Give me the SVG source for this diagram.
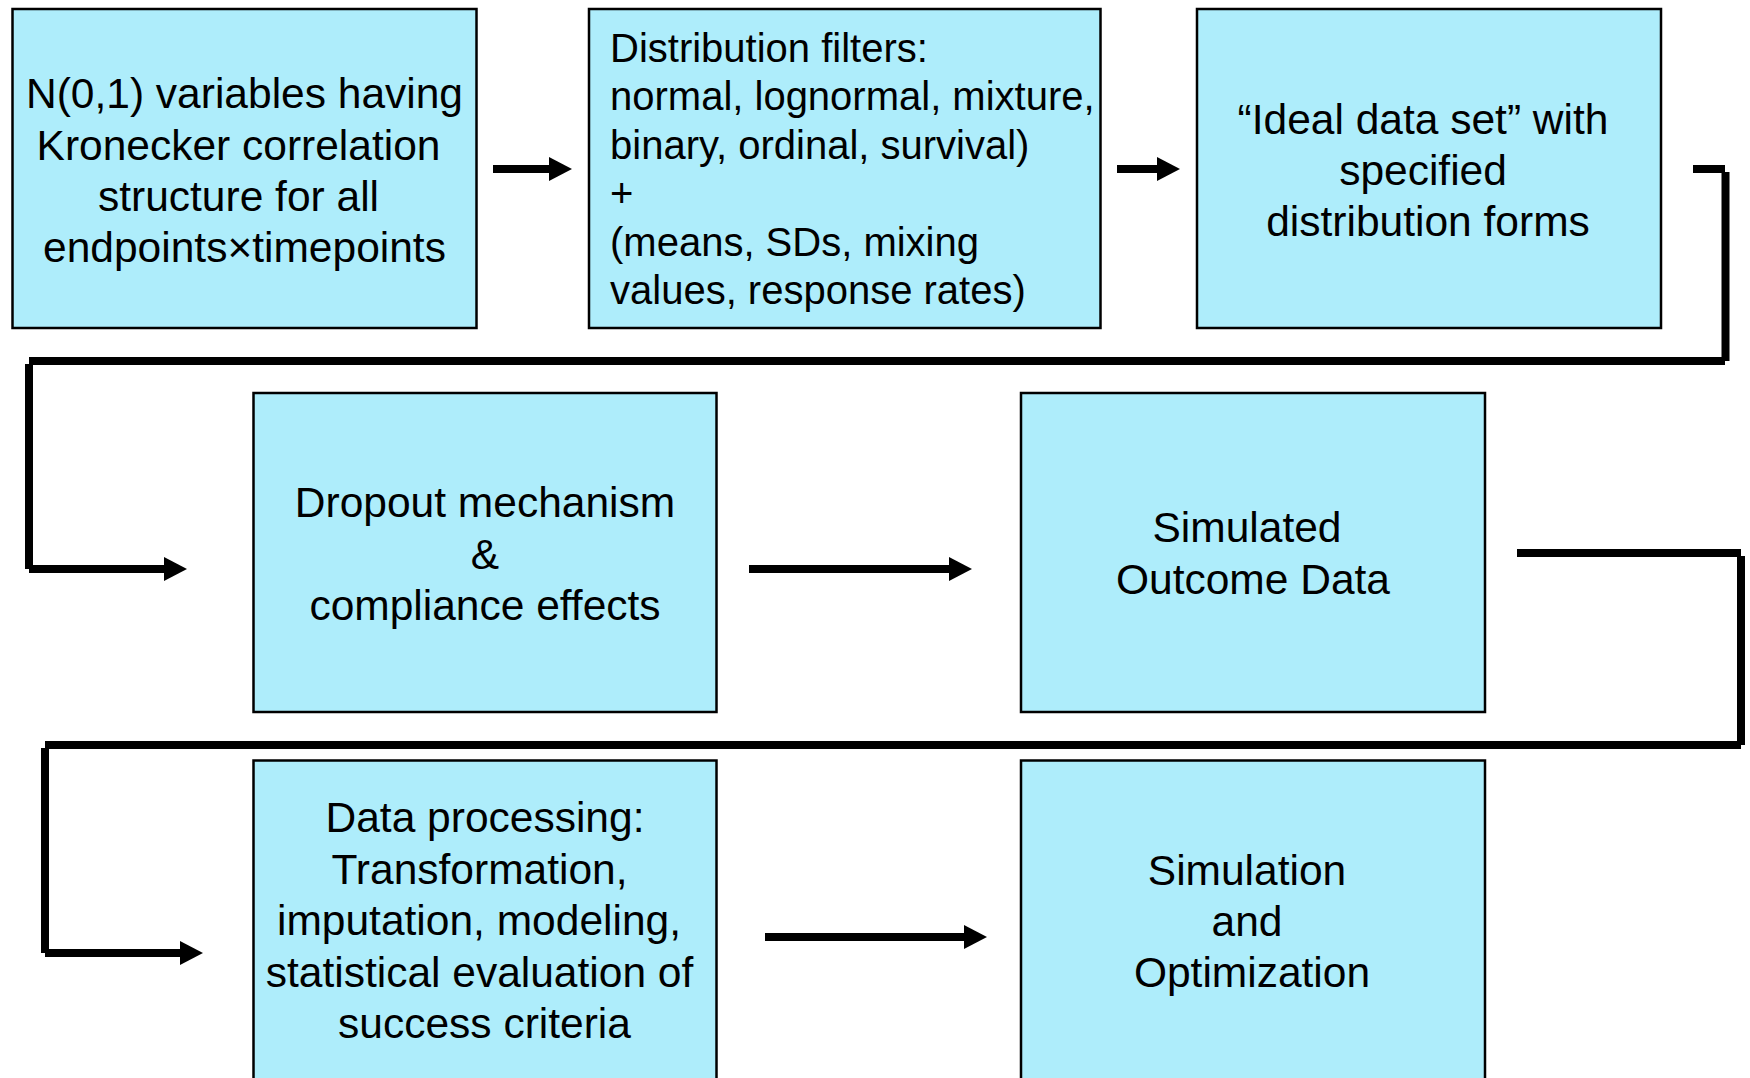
<svg xmlns="http://www.w3.org/2000/svg" width="1750" height="1078" viewBox="0 0 1750 1078">
  <style>
    .box { fill: #AEEDFB; stroke: #000000; stroke-width: 2.5; }
    .lbl { font-family: "Liberation Sans", Arial, sans-serif; font-size: 42.5px; fill: #000000; text-anchor: middle; }
    .lbl-left { font-family: "Liberation Sans", Arial, sans-serif; font-size: 40px; fill: #000000; text-anchor: start; }
    .wire { fill: none; stroke: #000000; stroke-width: 8; stroke-linecap: butt; }
  </style>
  <defs>
    <marker id="head" viewBox="0 0 23 24" markerWidth="23" markerHeight="24" refX="1" refY="12" orient="auto" markerUnits="userSpaceOnUse">
      <path d="M0,0 L23,12 L0,24 Z" fill="#000000"/>
    </marker>
  </defs>
  <rect width="1750" height="1078" fill="#FFFFFF"/>

  <!-- process steps -->
  <g id="node-normals">
    <rect class="box" x="12.5" y="9" width="464" height="319"/>
    <text class="lbl" x="244.5" y="108">N(0,1) variables having</text>
    <text class="lbl" x="238.5" y="159.5">Kronecker correlation</text>
    <text class="lbl" x="238.5" y="211">structure for all</text>
    <text class="lbl" x="244.5" y="262">endpoints×timepoints</text>
  </g>

  <g id="node-filters">
    <rect class="box" x="589" y="9" width="511.5" height="319"/>
    <text class="lbl-left" x="610" y="62">Distribution filters:</text>
    <text class="lbl-left" x="610" y="110.4">normal, lognormal, mixture,</text>
    <text class="lbl-left" x="610" y="158.8">binary, ordinal, survival)</text>
    <text class="lbl-left" x="610" y="207.2">+</text>
    <text class="lbl-left" x="610" y="255.6">(means, SDs, mixing</text>
    <text class="lbl-left" x="610" y="304">values, response rates)</text>
  </g>

  <g id="node-ideal">
    <rect class="box" x="1197" y="9" width="464" height="319"/>
    <text class="lbl" x="1423" y="133.5">“Ideal data set” with</text>
    <text class="lbl" x="1423" y="185">specified</text>
    <text class="lbl" x="1428" y="236">distribution forms</text>
  </g>

  <g id="node-dropout">
    <rect class="box" x="253.5" y="393" width="463" height="319"/>
    <text class="lbl" x="485" y="517">Dropout mechanism</text>
    <text class="lbl" x="485" y="568.5">&amp;</text>
    <text class="lbl" x="485" y="620">compliance effects</text>
  </g>

  <g id="node-simulated">
    <rect class="box" x="1021" y="393" width="464" height="319"/>
    <text class="lbl" x="1247" y="542">Simulated</text>
    <text class="lbl" x="1253" y="593.5">Outcome Data</text>
  </g>

  <g id="node-processing">
    <rect class="box" x="253.5" y="760.5" width="463" height="340"/>
    <text class="lbl" x="485" y="832">Data processing:</text>
    <text class="lbl" x="479.5" y="883.5">Transformation,</text>
    <text class="lbl" x="479" y="935">imputation, modeling,</text>
    <text class="lbl" x="479.5" y="986.5">statistical evaluation of</text>
    <text class="lbl" x="484.5" y="1038">success criteria</text>
  </g>

  <g id="node-optimization">
    <rect class="box" x="1021" y="760.5" width="464" height="340"/>
    <text class="lbl" x="1247" y="885">Simulation</text>
    <text class="lbl" x="1247" y="936">and</text>
    <text class="lbl" x="1252" y="987">Optimization</text>
  </g>

  <!-- connectors -->
  <g id="connectors">
    <line class="wire" x1="493" y1="169" x2="550" y2="169" marker-end="url(#head)"/>
    <line class="wire" x1="1117" y1="169" x2="1158" y2="169" marker-end="url(#head)"/>

    <!-- row 1 to row 2 return path -->
    <line class="wire" x1="1693" y1="169" x2="1725" y2="169"/>
    <line class="wire" x1="1725.5" y1="172" x2="1725.5" y2="361"/>
    <line class="wire" x1="1725" y1="361" x2="29" y2="361"/>
    <line class="wire" x1="29" y1="364" x2="29" y2="569"/>
    <line class="wire" x1="29" y1="569" x2="165" y2="569" marker-end="url(#head)"/>

    <line class="wire" x1="749" y1="569" x2="950" y2="569" marker-end="url(#head)"/>

    <!-- row 2 to row 3 return path -->
    <line class="wire" x1="1517" y1="553" x2="1741" y2="553"/>
    <line class="wire" x1="1741" y1="556" x2="1741" y2="745"/>
    <line class="wire" x1="1741" y1="745" x2="45" y2="745"/>
    <line class="wire" x1="45" y1="748" x2="45" y2="953"/>
    <line class="wire" x1="45" y1="953" x2="181" y2="953" marker-end="url(#head)"/>

    <line class="wire" x1="765" y1="937" x2="965" y2="937" marker-end="url(#head)"/>
  </g>
</svg>
